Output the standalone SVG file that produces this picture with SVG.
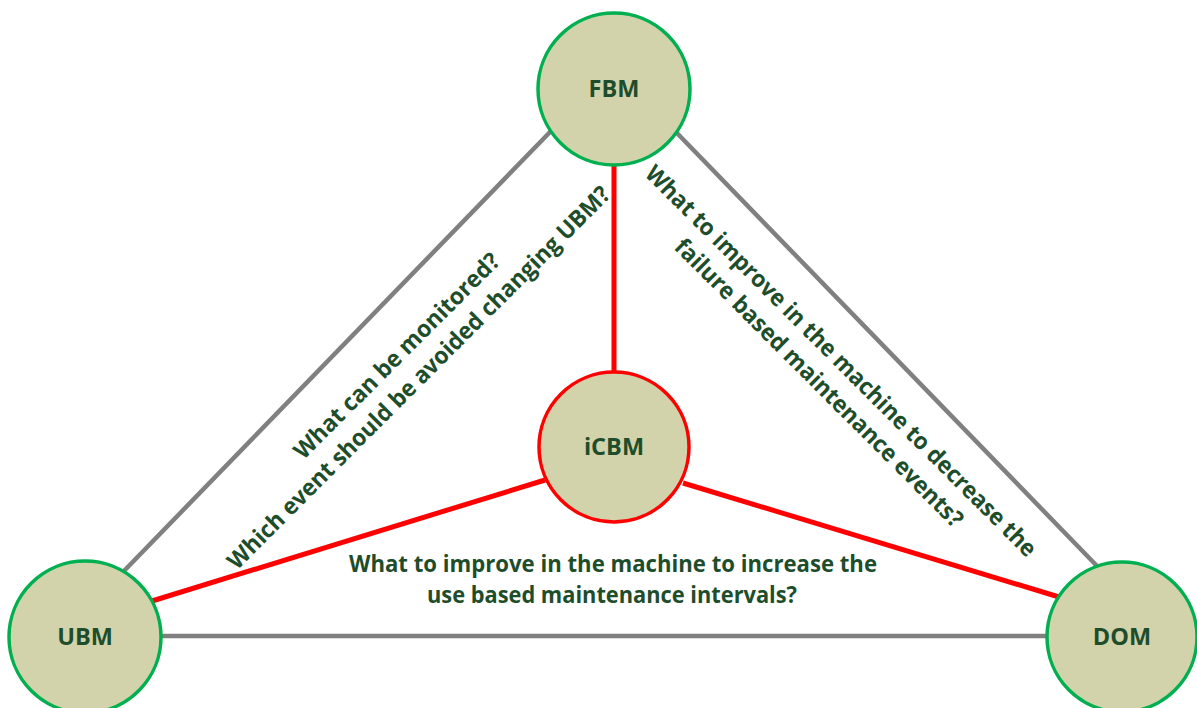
<svg xmlns="http://www.w3.org/2000/svg" width="1197" height="708" viewBox="0 0 1197 708">
  <style>
    .node { fill: #D3D3AB; stroke-width: 3.5; }
    .outer { stroke: #00B050; }
    .inner { stroke: #FF0000; }
    .label { font-family: "Open Sans", "Liberation Sans", sans-serif; font-weight: bold; fill: #1E4D2B; }
    .name { font-size: 23.5px; text-anchor: middle; }
    .q { font-size: 23.5px; text-anchor: middle; }
    .edge { stroke: #808080; stroke-width: 4.5; fill: none; }
    .link { stroke: #FF0000; stroke-width: 5; fill: none; }
  </style>
  <rect width="1197" height="708" fill="#FFFFFF"/>

  <!-- connectors -->
  <g id="connectors">
    <line class="edge" x1="123" y1="572" x2="552" y2="130"/>
    <line class="edge" x1="675" y1="131" x2="1097" y2="566"/>
    <line class="edge" x1="160" y1="636" x2="1049" y2="636"/>
    <line class="link" x1="614" y1="166" x2="614" y2="372"/>
    <line class="link" x1="545" y1="480" x2="152" y2="601"/>
    <line class="link" x1="683" y1="483" x2="1059" y2="597"/>
  </g>

  <!-- nodes -->
  <g id="FBM">
    <circle class="node outer" cx="614" cy="89" r="76"/>
    <text class="label name" x="614" y="97">FBM</text>
  </g>
  <g id="iCBM">
    <circle class="node inner" cx="614" cy="447" r="75"/>
    <text class="label name" x="614" y="455">iCBM</text>
  </g>
  <g id="UBM">
    <circle class="node outer" cx="85" cy="637" r="76"/>
    <text class="label name" x="85" y="645">UBM</text>
  </g>
  <g id="DOM">
    <circle class="node outer" cx="1122" cy="637" r="75"/>
    <text class="label name" x="1122" y="645">DOM</text>
  </g>

  <!-- edge questions -->
  <g id="q-left" transform="translate(418,377) rotate(-45)">
    <text class="label q" x="0" y="-22" textLength="280" lengthAdjust="spacingAndGlyphs">What can be monitored?</text>
    <text class="label q" x="0" y="9" textLength="530" lengthAdjust="spacingAndGlyphs">Which event should be avoided changing UBM?</text>
  </g>
  <g id="q-right" transform="translate(841,361) rotate(45)">
    <text class="label q" x="0" y="8" textLength="542" lengthAdjust="spacingAndGlyphs">What to improve in the machine to decrease the</text>
    <text class="label q" x="0" y="39" textLength="397" lengthAdjust="spacingAndGlyphs">failure based maintenance events?</text>
  </g>
  <g id="q-bottom">
    <text class="label q" x="613" y="572" textLength="528" lengthAdjust="spacingAndGlyphs">What to improve in the machine to increase the</text>
    <text class="label q" x="612" y="603" textLength="370" lengthAdjust="spacingAndGlyphs">use based maintenance intervals?</text>
  </g>
</svg>
